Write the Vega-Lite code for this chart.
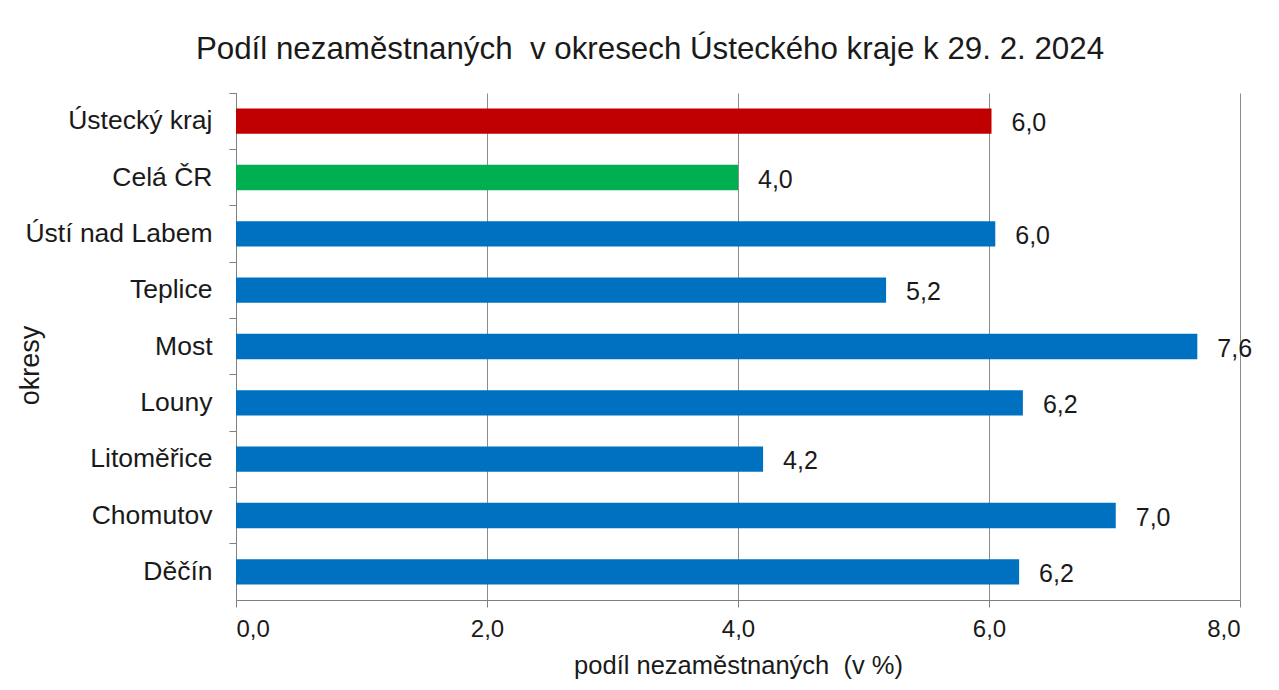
{
  "$schema": "https://vega.github.io/schema/vega-lite/v6.json",
  "autosize": {"type": "none"},
  "width": 1004,
  "height": 507,
  "padding": {"left": 236, "top": 93, "right": 39, "bottom": 90},
  "background": "white",
  "title": {
    "text": "Podíl nezaměstnaných\u00a0 v okresech Ústeckého kraje k 29. 2. 2024",
    "font": "Liberation Sans",
    "fontSize": 31.3,
    "fontWeight": "normal",
    "color": "#1a1a1a",
    "anchor": "middle",
    "offset": 27,
    "dx": -88
  },
  "data": {
    "values": [
      {"okres": "Ústecký kraj", "podil": 6.02, "label": "6,0", "typ": "kraj"},
      {"okres": "Celá ČR", "podil": 4.0, "label": "4,0", "typ": "cr"},
      {"okres": "Ústí nad Labem", "podil": 6.05, "label": "6,0", "typ": "okres"},
      {"okres": "Teplice", "podil": 5.18, "label": "5,2", "typ": "okres"},
      {"okres": "Most", "podil": 7.66, "label": "7,6", "typ": "okres"},
      {"okres": "Louny", "podil": 6.27, "label": "6,2", "typ": "okres"},
      {"okres": "Litoměřice", "podil": 4.2, "label": "4,2", "typ": "okres"},
      {"okres": "Chomutov", "podil": 7.01, "label": "7,0", "typ": "okres"},
      {"okres": "Děčín", "podil": 6.24, "label": "6,2", "typ": "okres"}
    ]
  },
  "encoding": {
    "y": {
      "field": "okres",
      "type": "nominal",
      "sort": null,
      "scale": {"paddingInner": 0, "paddingOuter": 0},
      "axis": {
        "title": "okresy",
        "titleFont": "Liberation Sans",
        "titleFontSize": 27,
        "titleFontWeight": "normal",
        "titleColor": "#1a1a1a",
        "titleAnchor": "middle",
        "titleX": -192,
        "titleY": 272,
        "labelFont": "Liberation Sans",
        "labelFontSize": 26.5,
        "labelColor": "#1a1a1a",
        "labelPadding": 17,
        "labelLimit": 300,
        "bandPosition": 0,
        "tickSize": 7,
        "tickColor": "#808080",
        "domainColor": "#808080",
        "grid": false
      }
    },
    "x": {
      "field": "podil",
      "type": "quantitative",
      "scale": {"domain": [0, 8], "nice": false},
      "axis": {
        "title": "podíl nezaměstnaných\u00a0 (v %)",
        "titleFont": "Liberation Sans",
        "titleFontSize": 25.5,
        "titleFontWeight": "normal",
        "titleColor": "#1a1a1a",
        "titlePadding": 12,
        "values": [0, 2, 4, 6, 8],
        "labelExpr": "replace(format(datum.value, '.1f'), '.', ',')",
        "labelFont": "Liberation Sans",
        "labelFontSize": 24,
        "labelColor": "#1a1a1a",
        "labelPadding": 10,
        "tickSize": 7,
        "tickColor": "#808080",
        "domainColor": "#808080",
        "grid": true,
        "gridColor": "#8c8c8c",
        "gridWidth": 1
      }
    }
  },
  "layer": [
    {
      "mark": {"type": "bar", "height": {"band": 0.45}},
      "encoding": {
        "color": {
          "field": "typ",
          "type": "nominal",
          "scale": {"domain": ["kraj", "cr", "okres"], "range": ["#C00000", "#00B050", "#0070C0"]},
          "legend": null
        }
      }
    },
    {
      "mark": {
        "type": "text",
        "align": "left",
        "baseline": "middle",
        "dx": 20,
        "dy": 2,
        "font": "Liberation Sans",
        "fontSize": 25,
        "color": "#1a1a1a"
      },
      "encoding": {"text": {"field": "label"}}
    }
  ],
  "config": {
    "view": {"stroke": null}
  }
}
